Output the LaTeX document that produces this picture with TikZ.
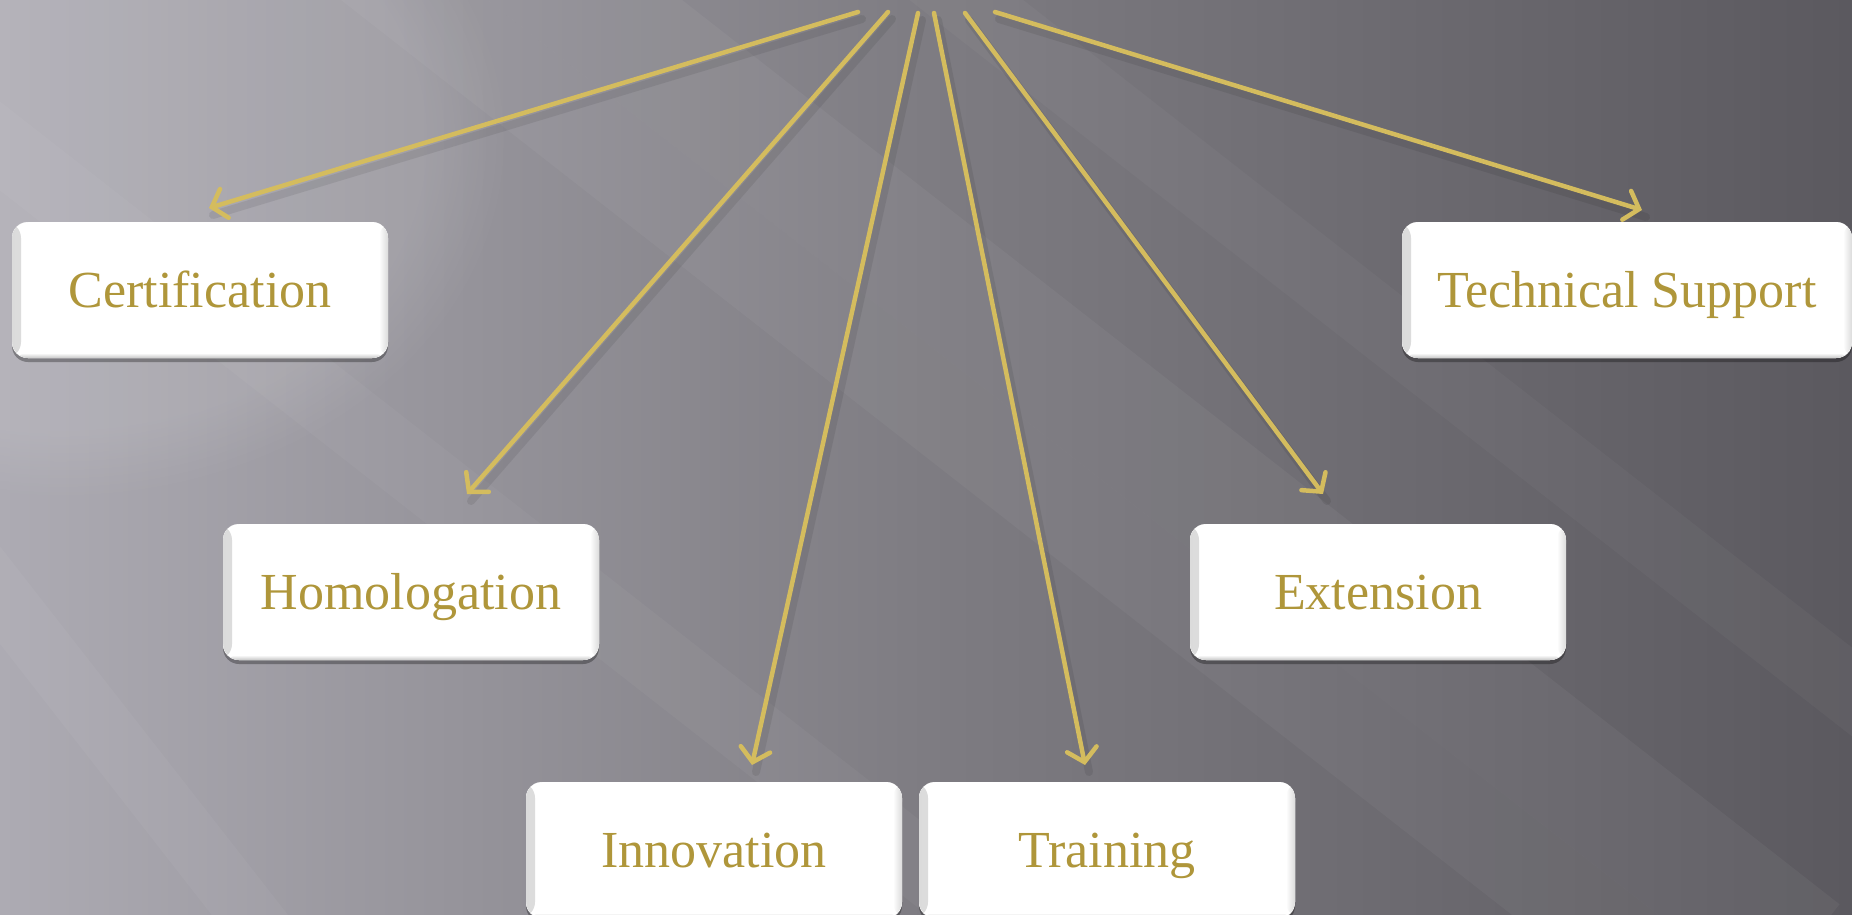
\documentclass[tikz,border=0pt]{standalone}
\usepackage{fontspec}
\setmainfont{Liberation Serif}
\usetikzlibrary{arrows.meta,shadows,fadings}
\definecolor{gold}{HTML}{D4BC5E}
\definecolor{txtgold}{HTML}{AF963A}
\definecolor{bgL}{HTML}{ADABB3}
\definecolor{bgM}{HTML}{7E7C82}
\definecolor{bgR}{HTML}{5B595F}
\tikzset{
  box/.style={fill=white, rounded corners=16pt, minimum width=376pt, minimum height=136pt,
    inner sep=0pt, text=txtgold, font=\fontsize{52}{60}\selectfont,
    text height=34pt, text depth=0pt,
    drop shadow={shadow xshift=0pt, shadow yshift=-4pt, opacity=0.3, fill=black},
    path picture={
      \fill[left color=black!14, right color=white]
        (path picture bounding box.south west) rectangle ([xshift=9pt]path picture bounding box.north west);
      \fill[right color=black!14, left color=white]
        (path picture bounding box.south east) rectangle ([xshift=-9pt]path picture bounding box.north east);
      \fill[bottom color=black!22, top color=white]
        (path picture bounding box.south west) rectangle ([yshift=5pt]path picture bounding box.south east);
    }},
  conn/.style={draw=gold, line width=4.5pt, line cap=round,
    -{Straight Barb[length=13pt, width=30pt, line cap=round]}},
  connshadow/.style={draw=black, line width=8pt, opacity=0.08, line cap=round}
}
\begin{document}
\begin{tikzpicture}[x=1pt,y=-1pt]
\useasboundingbox (0,0) rectangle (1852,914);
% background
\shade[left color=bgL, right color=bgR, middle color=bgM] (0,0) rectangle (1852,914);
\fill[white, path fading=circle with fuzzy edge 20 percent, fill opacity=0.10] (60,140) ellipse (450 and 360);
\begin{scope}[shift={(820,260)}, rotate=-38]
  \fill[white, fill opacity=0.045] (-1200,0) rectangle (1200,-120);
  \fill[white, fill opacity=0.04] (-1200,0) rectangle (1200,90);
  \fill[white, fill opacity=0.03] (-1200,-330) rectangle (1200,-260);
  \fill[white, fill opacity=0.035] (-1200,380) rectangle (1200,450);
\end{scope}
\begin{scope}[shift={(120,700)}, rotate=-52]
  \fill[white, fill opacity=0.04] (-800,0) rectangle (800,60);
\end{scope}
% nodes
\node[box] (cert)  at (200,290)  {Certification};
\node[box, minimum width=450pt] (tech)  at (1627,290) {Technical Support};
\node[box] (homo)  at (411,592)  {Homologation};
\node[box] (ext)   at (1378,592) {Extension};
\node[box] (innov) at (714,850)  {Innovation};
\node[box] (train) at (1107,850) {Training};
% connector ends
\coordinate (s1) at (858,12);
\coordinate (s2) at (888,12);
\coordinate (s3) at (918,13);
\coordinate (s4) at (934,13);
\coordinate (s5) at (965,13);
\coordinate (s6) at (995,12);
\coordinate (t1) at (209,208);
\coordinate (t2) at (467,494);
\coordinate (t3) at (752,765);
\coordinate (t4) at (1085,765);
\coordinate (t5) at (1323,494);
\coordinate (t6) at (1642,210);
% shadows
\foreach \a/\b in {s1/t1,s2/t2,s3/t3,s4/t4,s5/t5,s6/t6}
  \draw[connshadow] ([shift={(4,7)}]\a) -- ([shift={(4,7)}]\b);
% connectors
\draw[conn] (s1) -- (t1);
\draw[conn] (s2) -- (t2);
\draw[conn] (s3) -- (t3);
\draw[conn] (s4) -- (t4);
\draw[conn] (s5) -- (t5);
\draw[conn] (s6) -- (t6);
\end{tikzpicture}
\end{document}
